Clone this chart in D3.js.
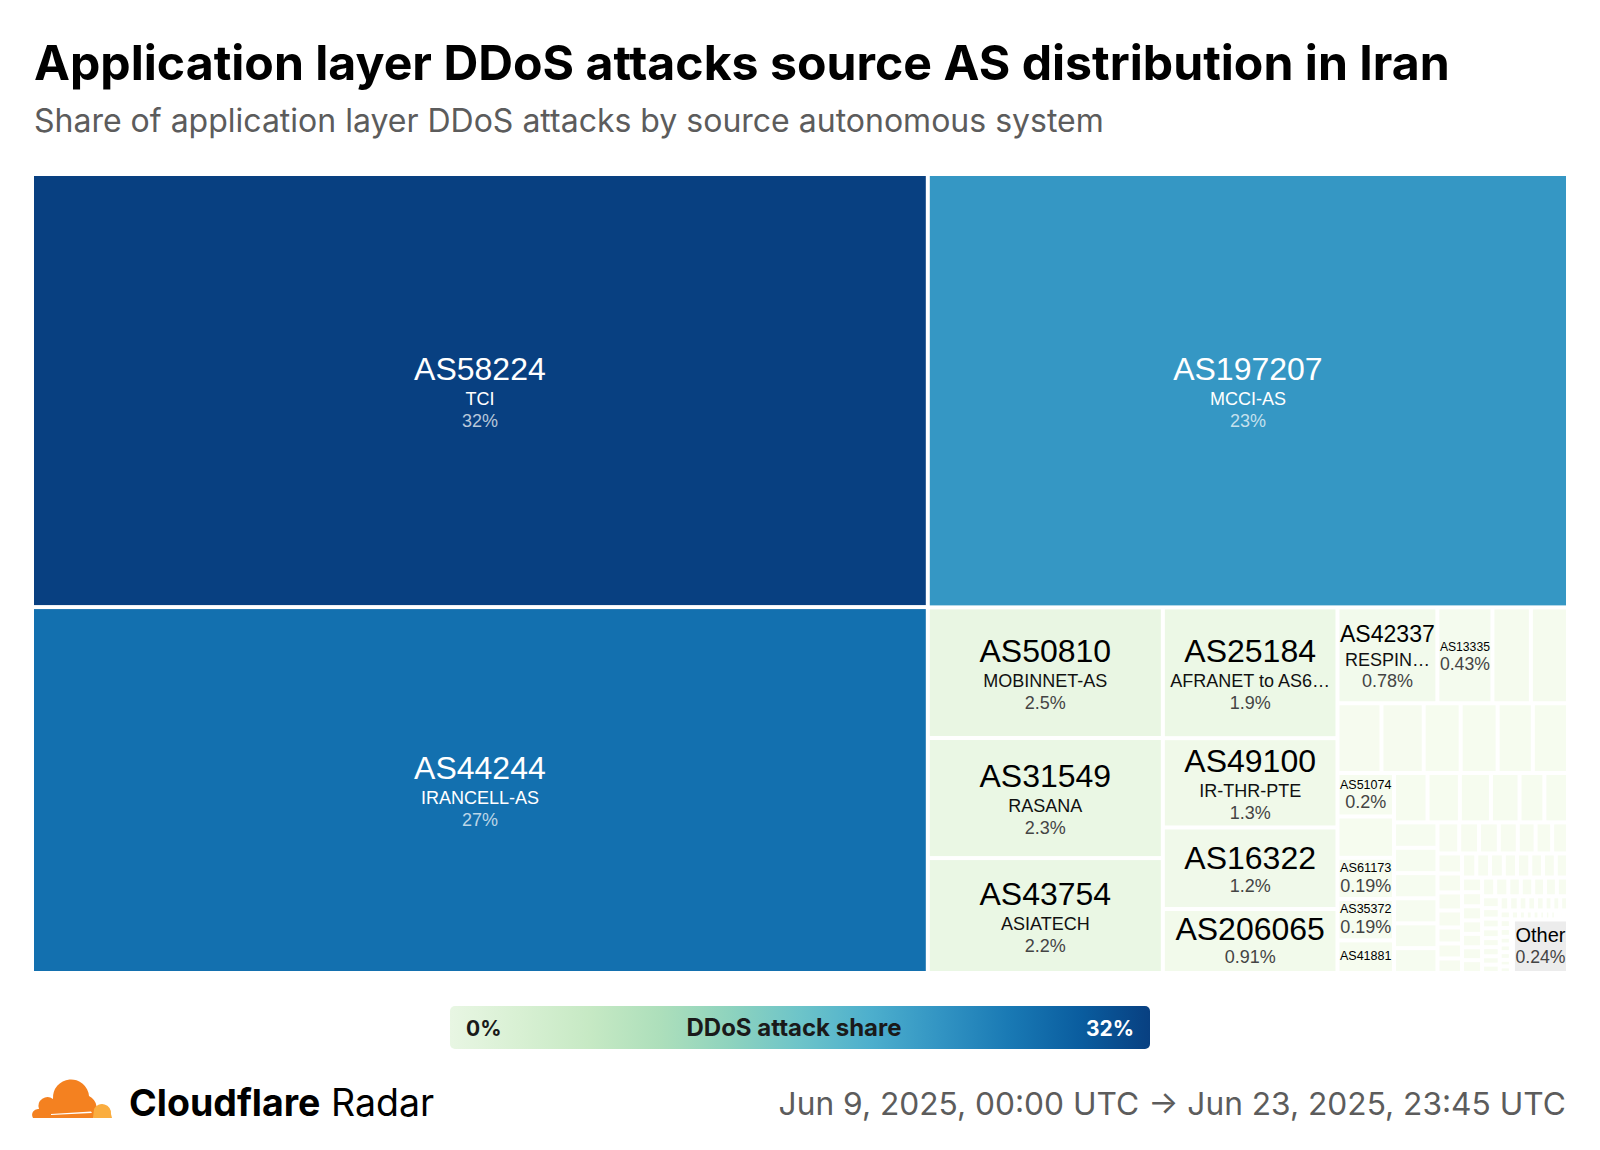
<!DOCTYPE html>
<html lang="en">
<head>
<meta charset="UTF-8">
<title>Application layer DDoS attacks source AS distribution in Iran</title>
<style>
    body { margin: 0; background: #fff; }
    svg { display: block; }
</style>
<script src="https://cdn.jsdelivr.net/npm/d3@7"></script>
</head>
<body>
<svg id="chart" width="1600" height="1150"></svg>
<script>
// labelled sources (share in %)
const topAsns = ["AS58224", "AS44244", "AS197207", "AS50810", "AS31549", "AS43754",
    "AS25184", "AS49100", "AS16322", "AS206065", "AS42337", "AS13335"];
const topNames = ["TCI", "IRANCELL-AS", "MCCI-AS", "MOBINNET-AS", "RASANA", "ASIATECH",
    "AFRANET to AS6…", "IR-THR-PTE", "", "", "RESPIN…", ""];
const topShares = [31.6, 26.7, 22.6, 2.5, 2.3, 2.2, 1.86, 1.27, 1.16, 0.91, 0.78, 0.43];

// small sources without a visible label
const unlabelledA = [0.30, 0.29, 0.25, 0.24, 0.21, 0.21, 0.20, 0.20];

const midAsns = ["AS51074", "", "AS61173", "AS35372", "AS41881"];
const midShares = [0.2, 0.19, 0.19, 0.19, 0.15];

const tailShares = [0.135, 0.13, 0.125, 0.115, 0.10, 0.095,
    0.09, 0.09, 0.089, 0.089, 0.088, 0.088,
    0.055, 0.05, 0.05, 0.048, 0.045, 0.042, 0.04,
    0.04, 0.038, 0.036, 0.034, 0.032, 0.03, 0.029, 0.028, 0.027,
    0.027, 0.026, 0.026, 0.025, 0.025, 0.024,
    0.024, 0.023, 0.023, 0.022, 0.022, 0.021, 0.021,
    0.02, 0.02, 0.019, 0.019, 0.018, 0.018, 0.017, 0.017,
    0.015, 0.014, 0.014, 0.013, 0.013, 0.012, 0.012, 0.011, 0.011, 0.01,
    0.01, 0.01, 0.009, 0.009, 0.009, 0.008, 0.008, 0.008, 0.007, 0.007,
    0.007, 0.006, 0.006, 0.006, 0.005, 0.005, 0.005, 0.004, 0.004, 0.004,
    0.003, 0.003, 0.003, 0.003, 0.003, 0.003];

const otherShare = 0.24;

const legendMin = "0%";
const legendMax = "32%";
const dateRange = "Jun 9, 2025, 00:00 UTC → Jun 23, 2025, 23:45 UTC";

// ---------------------------------------------------------------

const nodes = [];
topAsns.forEach((a, i) => nodes.push({ asn: a, name: topNames[i], share: topShares[i] }));
unlabelledA.forEach(v => nodes.push({ asn: "", name: "", share: v }));
midAsns.forEach((a, i) => nodes.push({ asn: a, name: "", share: midShares[i] }));
tailShares.forEach(v => nodes.push({ asn: "", name: "", share: v }));
nodes.push({ asn: "Other", name: "", share: otherShare, other: true });

const svg = d3.select("#chart");
const uiFont = "Inter, 'Noto Sans', sans-serif";
const cellFont = "'Liberation Sans', Arial, sans-serif";

// header
svg.append("text")
    .attr("x", 34).attr("y", 80)
    .attr("font-family", uiFont).attr("font-weight", 700).attr("font-size", 48.2)
    .attr("fill", "#000")
    .text("Application layer DDoS attacks source AS distribution in Iran");

svg.append("text")
    .attr("x", 34).attr("y", 132)
    .attr("font-family", uiFont).attr("font-size", 32)
    .attr("fill", "#5c5c5c")
    .text("Share of application layer DDoS attacks by source autonomous system");

// treemap
const tmX = 34, tmY = 176, tmW = 1532, tmH = 795;

const root = d3.hierarchy({ children: nodes }).sum(d => d.share || 0);
d3.treemap()
    .tile(d3.treemapSquarify)
    .size([tmW, tmH])
    .paddingInner(4)(root);

const maxShare = d3.max(topShares);
const color = d3.scaleSequential(d3.interpolateGnBu).domain([0, maxShare]);
const fmt = d3.format(".2~r");

const g = svg.append("g").attr("transform", `translate(${tmX},${tmY})`);

const measure = svg.append("text")
    .attr("font-family", cellFont)
    .attr("visibility", "hidden");

function textWidth(str, size) {
    measure.attr("font-size", size).text(str);
    return measure.node().getComputedTextLength();
}

const cells = g.selectAll("g.cell")
    .data(root.leaves())
    .join("g")
    .attr("class", "cell")
    .attr("transform", d => `translate(${d.x0},${d.y0})`);

cells.append("rect")
    .attr("width", d => Math.max(0, d.x1 - d.x0))
    .attr("height", d => Math.max(0, d.y1 - d.y0))
    .attr("fill", d => d.data.other ? "#ececec" : color(d.data.share));

cells.each(function (d) {
    const a = d.data;
    if (!a.asn) return;
    const w = d.x1 - d.x0, h = d.y1 - d.y0;
    const asFont = Math.min(32, (w - 1) / textWidth(a.asn, 100) * 100);
    if (asFont < 11) return;

    const dark = !a.other && a.share / maxShare > 0.5;
    const lines = [{ text: a.asn, size: asFont, fill: dark ? "#fff" : "#000", gap: 0 }];

    if (a.name && asFont >= 16 && textWidth(a.name, 18) <= w - 2) {
        lines.push({ text: a.name, size: 18, fill: dark ? "#fff" : "#111", gap: 0.2 * asFont + 19 });
    }
    const pct = fmt(a.share) + "%";
    const pctFont = Math.min(18, (w - 1) / textWidth(pct, 100) * 100);
    const pctGap = lines.length > 1 ? 21.5 : 0.2 * asFont + 17;
    lines.push({ text: pct, size: pctFont, fill: dark ? "rgba(255,255,255,0.72)" : "#444", gap: pctGap });

    // drop lines that do not fit the height
    const blockHeight = ls => 0.72 * asFont + d3.sum(ls, l => l.gap) + 4;
    while (lines.length > 1 && blockHeight(lines) > h - 2) {
        lines.splice(lines.length === 3 ? 1 : lines.length - 1, 1);
        if (lines.length === 2) lines[1].gap = 0.2 * asFont + 17;
    }
    if (blockHeight(lines) > h) return;

    let y = h / 2 - blockHeight(lines) / 2 + 0.72 * asFont + (h > 60 ? 3 : 1);
    const sel = d3.select(this);
    lines.forEach(l => {
        y += l.gap;
        sel.append("text")
            .attr("x", w / 2).attr("y", y)
            .attr("text-anchor", "middle")
            .attr("font-family", cellFont)
            .attr("font-size", l.size)
            .attr("fill", l.fill)
            .text(l.text);
    });
});

// legend
const defs = svg.append("defs");
const grad = defs.append("linearGradient").attr("id", "legendGrad");
d3.range(0, 1.001, 0.1).forEach(t => {
    grad.append("stop").attr("offset", t).attr("stop-color", d3.interpolateGnBu(0.08 + 0.92 * t));
});

const lgX = 450, lgY = 1006, lgW = 700, lgH = 43;
svg.append("rect")
    .attr("x", lgX).attr("y", lgY).attr("width", lgW).attr("height", lgH)
    .attr("rx", 5).attr("fill", "url(#legendGrad)");

const legendText = (x, anchor, txt, fill, size) => svg.append("text")
    .attr("x", x).attr("y", lgY + 30)
    .attr("text-anchor", anchor)
    .attr("font-family", uiFont).attr("font-weight", 700).attr("font-size", size)
    .attr("fill", fill)
    .text(txt);

legendText(lgX + 16, "start", legendMin, "#1a1a1a", 21);
legendText(lgX + lgW / 2 - 6, "middle", "DDoS attack share", "#1a1a1a", 24);
legendText(lgX + lgW - 16, "end", legendMax, "#fff", 21);

// footer logo
const logo = svg.append("g").attr("transform", "translate(31,1082)");
logo.append("path")
    .attr("fill", "#f48120")
    .attr("d", "M2 36 A6 6 0 0 1 8 27 A9 9 0 0 1 22 17 A16 16 0 0 1 58 14 A14 14 0 0 1 62 36 Z");
logo.append("path")
    .attr("fill", "#faad3f")
    .attr("d", "M62 36 L63 27 A9 9 0 0 1 80 32 L81 36 Z");
logo.append("path")
    .attr("fill", "#fff")
    .attr("d", "M20 32 L60 29.5 L61 31 L20 33 Z");

const brand = svg.append("text")
    .attr("x", 129).attr("y", 1116)
    .attr("font-family", uiFont).attr("font-size", 37.5)
    .attr("fill", "#000");
brand.append("tspan").attr("font-weight", 700).text("Cloudflare");
brand.append("tspan").attr("font-weight", 400).text(" Radar");

svg.append("text")
    .attr("x", 1566).attr("y", 1115)
    .attr("text-anchor", "end")
    .attr("font-family", uiFont).attr("font-size", 31.7)
    .attr("fill", "#5c5c5c")
    .text(dateRange);
</script>
</body>
</html>
